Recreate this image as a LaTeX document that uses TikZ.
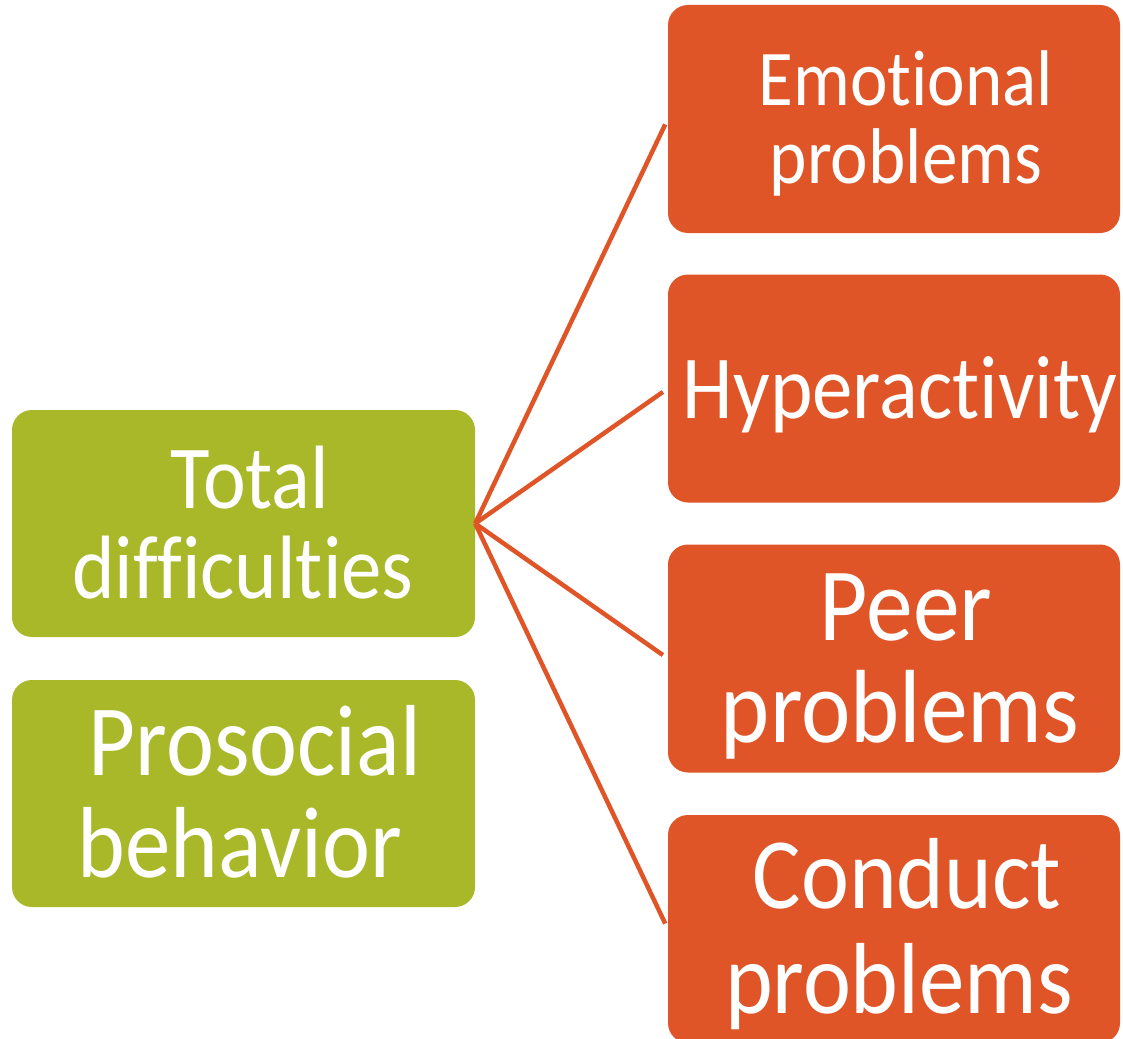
\documentclass[tikz,border=0pt]{standalone}
\usepackage{fontspec}
\setmainfont{Carlito}[FakeStretch=0.9, Ligatures=NoCommon]
\definecolor{org}{RGB}{224,85,40}
\definecolor{grn}{RGB}{168,184,41}
\begin{document}
\begin{tikzpicture}[x=1pt,y=-1pt,
  obox/.style={rectangle, rounded corners=20pt, fill=org, draw=none, inner sep=0pt, minimum width=452pt, minimum height=228pt},
  gbox/.style={rectangle, rounded corners=20pt, fill=grn, draw=none, inner sep=0pt, minimum width=463pt, minimum height=227pt},
  txt/.style={anchor=base, text=white, inner sep=0pt, font=\fontsize{#1}{#1}\selectfont},
  link/.style={draw=org, line width=4.5pt, shorten >=6pt}]
\useasboundingbox (0,0) rectangle (1123,1038);
\begin{scope}
\clip (0,0) rectangle (1123,1038);
\node[obox] (emo) at (894,119) {};
\node[obox] (hyp) at (894,388.5) {};
\node[obox] (peer) at (894,658.5) {};
\node[obox] (cond) at (894,929) {};
\node[gbox] (tot) at (243.5,523.5) {};
\node[gbox] (pro) at (243.5,793.5) {};
\end{scope}
\draw[link] (tot.east) -- (emo.west);
\draw[link] (tot.east) -- (hyp.west);
\draw[link] (tot.east) -- (peer.west);
\draw[link] (tot.east) -- (cond.west);
\node[txt=79] (emo1) at (906,106) {Emotional};
\node[txt=79] (emo2) at (906,183) {problems};
\node[txt=90] (hyp1) at (900,418) {Hyperactivity};
\node[txt=104] (peer1) at (906,640) {Peer};
\node[txt=104] (peer2) at (900,742) {problems};
\node[txt=101] (cond1) at (907,908) {Conduct};
\node[txt=101] (cond2) at (899,1013) {problems};
\node[txt=90] (tot1) at (250,508) {Total};
\node[txt=90] (tot2) at (243,598) {difficulties};
\node[txt=101] (pro1) at (255,775) {Prosocial};
\node[txt=101] (pro2) at (240,877) {behavior};
\end{tikzpicture}
\end{document}
